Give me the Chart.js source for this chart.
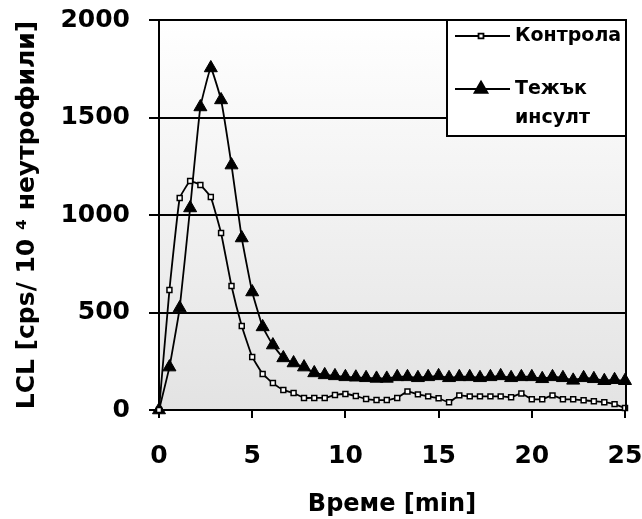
<!DOCTYPE HTML>
<html lang="bg">
<head>
    <meta charset="UTF-8">
    <title>LCL</title>
    <script src="https://cdn.jsdelivr.net/npm/chart.js"></script>
    <style>
        html, body { margin: 0; padding: 0; background: #fff; }
        #wrap { width: 642px; height: 519px; position: relative; }
    </style>
</head>
<body>
<div id="wrap"><canvas id="lclChart"></canvas></div>

<script>
    // време [min]
    const times = [0, 0.56, 1.11, 1.67, 2.22, 2.78, 3.33, 3.89, 4.44, 5.0,
        5.56, 6.11, 6.67, 7.22, 7.78, 8.33, 8.89, 9.44, 10.0, 10.56,
        11.11, 11.67, 12.22, 12.78, 13.33, 13.89, 14.44, 15.0, 15.56, 16.11,
        16.67, 17.22, 17.78, 18.33, 18.89, 19.44, 20.0, 20.56, 21.11, 21.67,
        22.22, 22.78, 23.33, 23.89, 24.44, 25.0];

    // Контрола
    const controlValues = [0, 615, 1087, 1174, 1154, 1092, 908, 636, 431, 272,
        185, 138, 103, 87, 62, 62, 62, 77, 82, 72,
        56, 51, 51, 62, 95, 80, 70, 60, 40, 75,
        70, 70, 70, 70, 65, 85, 55, 55, 75, 55,
        55, 50, 45, 40, 30, 10];

    // Тежък инсулт
    const strokeValues = [0, 220, 523, 1036, 1554, 1754, 1590, 1256, 882, 605,
        426, 333, 267, 241, 220, 190, 180, 175, 170, 168,
        165, 162, 162, 170, 170, 165, 170, 175, 165, 170,
        170, 165, 170, 175, 165, 170, 170, 160, 170, 165,
        152, 165, 160, 150, 155, 150];

    const xTicks = [0, 5, 10, 15, 20, 25];
    const yTicks = [0, 500, 1000, 1500, 2000];

    const legendLabels = [['Контрола'], ['Тежък', 'инсулт']];

    const toPoints = vals => vals.map((v, i) => ({ x: times[i], y: v }));

    // сив градиент във фона на графиката
    const bgPlugin = {
        id: 'bgGradient',
        beforeDraw(chart) {
            const { ctx, chartArea: a } = chart;
            const g = ctx.createLinearGradient(0, a.top, 0, a.bottom);
            g.addColorStop(0, '#ffffff');
            g.addColorStop(1, '#e3e3e3');
            ctx.save();
            ctx.fillStyle = g;
            ctx.fillRect(a.left, a.top, a.right - a.left, a.bottom - a.top);
            ctx.restore();
        },
        afterDatasetsDraw(chart) {
            const { ctx, chartArea: a } = chart;
            ctx.save();
            ctx.strokeStyle = '#000';
            ctx.lineWidth = 2;
            ctx.beginPath();
            ctx.moveTo(a.right + 1, a.top);
            ctx.lineTo(a.right + 1, a.bottom);
            ctx.stroke();
            ctx.restore();
        }
    };

    // легенда в рамка горе вдясно
    const boxLegend = {
        id: 'boxLegend',
        afterDraw(chart) {
            const { ctx, chartArea: a } = chart;
            const x0 = 447, y0 = a.top, x1 = a.right + 1, y1 = 136;
            ctx.save();
            ctx.fillStyle = '#fff';
            ctx.fillRect(x0, y0, x1 - x0, y1 - y0);
            ctx.strokeStyle = '#000';
            ctx.lineWidth = 2;
            ctx.strokeRect(x0, y0, x1 - x0, y1 - y0);

            const rows = [36, 89];
            chart.data.datasets.forEach((ds, i) => {
                const y = rows[i];
                ctx.strokeStyle = '#000';
                ctx.lineWidth = ds.borderWidth;
                ctx.beginPath();
                ctx.moveTo(455, y);
                ctx.lineTo(510, y);
                ctx.stroke();
                Chart.helpers.drawPoint(ctx, {
                    pointStyle: ds.pointStyle,
                    radius: ds.pointRadius,
                    borderWidth: ds.pointBorderWidth
                }, 481, y);
                ctx.fillStyle = '#000';
                ctx.font = 'bold 19px "DejaVu Sans"';
                ctx.textAlign = 'left';
                ctx.textBaseline = 'middle';
                legendLabels[i].forEach((t, k) => ctx.fillText(t, 515, y + k * 29));
            });
            ctx.restore();
        }
    };

    const tickFont = { family: 'DejaVu Sans', weight: 'bold', size: 25 };

    const ctx = document.getElementById('lclChart').getContext('2d');
    new Chart(ctx, {
        type: 'line',
        data: {
            datasets: [{
                label: legendLabels[0].join(' '),
                data: toPoints(controlValues),
                borderColor: '#000',
                borderWidth: 1.8,
                pointStyle: 'rect',
                pointRadius: 3.5,
                pointBackgroundColor: '#fff',
                pointBorderColor: '#000',
                pointBorderWidth: 1.5,
                tension: 0.1,
                clip: false
            }, {
                label: legendLabels[1].join(' '),
                data: toPoints(strokeValues),
                borderColor: '#000',
                borderWidth: 1.8,
                pointStyle: 'triangle',
                pointRadius: 7.5,
                pointBackgroundColor: '#000',
                pointBorderColor: '#000',
                pointBorderWidth: 1,
                tension: 0.1,
                clip: false
            }]
        },
        options: {
            responsive: true,
            maintainAspectRatio: false,
            animation: false,
            events: [],
            layout: { padding: { left: 4, right: 17, top: 20, bottom: 0 } },
            plugins: { legend: { display: false }, tooltip: { enabled: false } },
            scales: {
                x: {
                    type: 'linear',
                    min: 0, max: 25,
                    afterBuildTicks: s => { s.ticks = xTicks.map(v => ({ value: v })); },
                    afterFit: s => { s.height = 109; s.paddingLeft = 0; s.paddingRight = 0; },
                    grid: { drawOnChartArea: false, color: '#000', lineWidth: 2, tickLength: 8 },
                    border: { color: '#000', width: 2 },
                    ticks: { color: '#000', font: tickFont, padding: 23, maxRotation: 0, callback: v => String(v) },
                    title: { display: true, text: 'Време [min]', color: '#000', font: { family: 'DejaVu Sans', weight: 'bold', size: 24 }, padding: { top: 0, bottom: 0 } }
                },
                y: {
                    min: 0, max: 2000,
                    afterBuildTicks: s => { s.ticks = yTicks.map(v => ({ value: v })); },
                    afterFit: s => { s.width = 155; s.paddingTop = 0; s.paddingBottom = 0; },
                    grid: { color: '#000', lineWidth: 2, tickLength: 10 },
                    border: { color: '#000', width: 2 },
                    ticks: { color: '#000', font: tickFont, padding: 19, callback: v => String(v) },
                    title: { display: true, text: 'LCL [cps/ 10 ⁴ неутрофили]', color: '#000', font: { family: 'DejaVu Sans', weight: 'bold', size: 25 }, padding: { top: 8, bottom: 0 } }
                }
            }
        },
        plugins: [bgPlugin, boxLegend]
    });
</script>
</body>
</html>
